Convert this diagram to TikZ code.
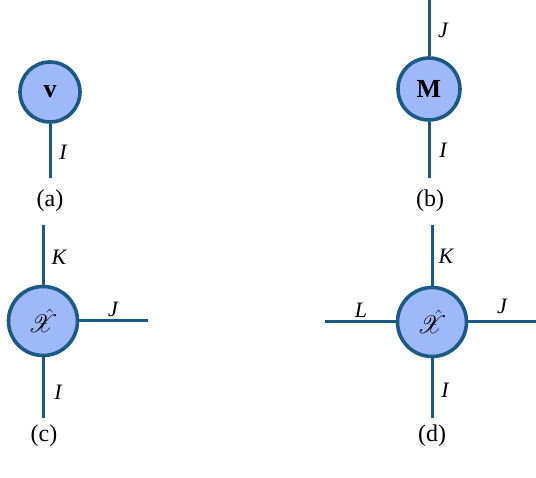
\documentclass[tikz,border=0pt]{standalone}
\usepackage{fontspec}
\setmainfont{Liberation Serif}
\usepackage{mathrsfs}
\definecolor{edgeblue}{HTML}{1B5A85}
\definecolor{fillblue}{HTML}{9EB9F7}
\tikzset{
  tensor/.style={circle, draw=edgeblue, fill=fillblue, line width=3.6pt, inner sep=0pt, minimum size=#1},
  leg/.style={draw=edgeblue, line width=3pt},
  idx/.style={font=\fontsize{22}{24}\selectfont\itshape},
  captext/.style={font=\fontsize{24}{26}\selectfont}
}
\begin{document}
\begin{tikzpicture}[x=1pt,y=-1pt]
\useasboundingbox (0,0) rectangle (536,478);
% (a)
\node[tensor=60pt, font=\fontsize{26}{28}\selectfont\bfseries] (va) at (50,92) {v};
\coordinate (va1) at (50,178);
\draw[leg] (va) -- (va1);
\node[idx] (la1) at (63,152) {I};
\node[captext] (ca) at (50,201) {(a)};
% (b)
\node[tensor=62pt, font=\fontsize{26}{28}\selectfont\bfseries] (mb) at (429,89) {M};
\coordinate (mb0) at (429,0);
\coordinate (mb1) at (429,178);
\draw[leg] (mb) -- (mb0);
\draw[leg] (mb) -- (mb1);
\node[idx] (lb2) at (443,30) {J};
\node[idx] (lb1) at (443,150) {I};
\node[captext] (cb) at (430,201) {(b)};
% (c)
\node[tensor=69pt, font=\fontsize{28}{30}\selectfont] (xc) at (43,321) {$\hat{\mathscr{X}}$};
\coordinate (xcK) at (43,225);
\coordinate (xcJ) at (148,321);
\coordinate (xcI) at (43,418);
\draw[leg] (xc) -- (xcK);
\draw[leg] (xc) -- (xcJ);
\draw[leg] (xc) -- (xcI);
\node[idx] (lcK) at (59,257) {K};
\node[idx] (lcJ) at (113,309) {J};
\node[idx] (lcI) at (58,392) {I};
\node[captext] (cc) at (44,436) {(c)};
% (d)
\node[tensor=69pt, font=\fontsize{28}{30}\selectfont] (xd) at (432,322) {$\hat{\mathscr{X}}$};
\coordinate (xdK) at (432,225);
\coordinate (xdL) at (325,322);
\coordinate (xdJ) at (536,322);
\coordinate (xdI) at (432,418);
\draw[leg] (xd) -- (xdK);
\draw[leg] (xd) -- (xdL);
\draw[leg] (xd) -- (xdJ);
\draw[leg] (xd) -- (xdI);
\node[idx] (ldK) at (446,256) {K};
\node[idx] (ldL) at (361,310) {L};
\node[idx] (ldJ) at (502,306) {J};
\node[idx] (ldI) at (445,390) {I};
\node[captext] (cd) at (432,436) {(d)};
\end{tikzpicture}
\end{document}
